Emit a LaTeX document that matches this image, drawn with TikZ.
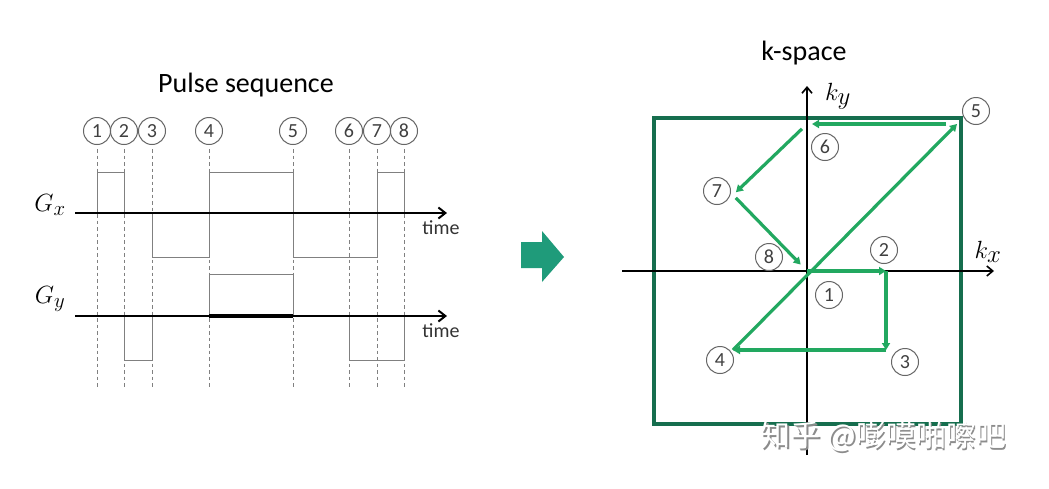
\documentclass[tikz,border=0pt]{standalone}
\usepackage{fontspec}
\setmainfont{Carlito}
\newfontfamily\cjkfont{Noto Sans CJK SC}
\usetikzlibrary{arrows.meta}
\definecolor{boxgreen}{RGB}{22,110,78}
\definecolor{pathgreen}{RGB}{34,168,96}
\definecolor{bigarrow}{RGB}{31,155,122}
\tikzset{
  numc/.style={circle,draw=black!60,text=black!75,line width=1pt,minimum size=27pt,inner sep=0pt,font=\fontsize{20}{20}\selectfont},
  wave/.style={black!50,line width=0.9pt},
  guide/.style={black!50,line width=1pt,dash pattern=on 3.5pt off 3pt},
  taxis/.style={black,line width=2.2pt,-{Straight Barb[length=7pt,width=11pt,line width=2pt]}},
  kaxis/.style={black,line width=1.6pt,-{Straight Barb[length=6pt,width=10pt,line width=1.6pt]}},
  traj/.style={pathgreen,line width=3.2pt,-{Triangle[length=7pt,width=8pt]}},
  lbl/.style={font=\fontsize{28}{30}\selectfont},
}
\begin{document}
\begin{tikzpicture}[x=1pt,y=-1pt]
\useasboundingbox[fill=white] (0,0) rectangle (1049,488);
% pulse sequence
\node[lbl] (ptitle) at (246,85) {Pulse sequence};
\foreach \x/\n in {97/1,124/2,152/3,209/4,293/5,349/6,377/7,404/8} {
  \node[numc] (t\n) at (\x,131) {\n};
  \coordinate (b\n) at (\x,388);
  \draw[guide] (t\n.south) ++(0,4) -- (b\n);
}
\coordinate (gx0) at (75,213);
\coordinate (gx1) at (447,213);
\coordinate (gy0) at (75,316);
\coordinate (gy1) at (447,316);
\draw[wave] (97,213) -- (97,172) -- (124,172) -- (124,213);
\draw[wave] (152,213) -- (152,257) -- (209,257) -- (209,172) -- (293,172) -- (293,257) -- (377,257) -- (377,172) -- (404,172) -- (404,213);
\draw[wave] (124,316) -- (124,360) -- (152,360) -- (152,316);
\draw[wave] (209,316) -- (209,274) -- (293,274) -- (293,316);
\draw[wave] (349,316) -- (349,360) -- (404,360) -- (404,316);
\draw[taxis] (gx0) -- (gx1);
\draw[taxis] (gy0) -- (gy1);
\draw[black,line width=3.5pt] (209,316) -- (293,316);
\node[font=\fontsize{32}{32}\selectfont] (gxl) at (50,205) {$G_x$};
\node[font=\fontsize{32}{32}\selectfont] (gyl) at (50,299) {$G_y$};
\node[font=\fontsize{20}{20}\selectfont,text=black!80] (tx) at (441,228) {time};
\node[font=\fontsize{20}{20}\selectfont,text=black!80] (ty) at (441,331) {time};
% arrow between
\fill[bigarrow] (521,242) -- (542,242) -- (542,231) -- (564,257) -- (542,282) -- (542,268) -- (521,268) -- cycle;
% k-space
\node[lbl] (ktitle) at (804,53) {k-space};
\draw[boxgreen,line width=3.2pt] (654,118) rectangle (961,424);
\coordinate (kx0) at (622,271);
\coordinate (kx1) at (994,271);
\coordinate (ky0) at (807,455);
\coordinate (ky1) at (807,86);
\draw[kaxis] (kx0) -- (kx1);
\draw[kaxis] (ky0) -- (ky1);
\node[font=\fontsize{36}{36}\selectfont] (kxl) at (988,252) {$k_x$};
\node[font=\fontsize{36}{36}\selectfont] (kyl) at (838,96) {$k_y$};
\coordinate (k1) at (807,271);
\coordinate (k2) at (886,271);
\coordinate (k3) at (886,350);
\coordinate (k4) at (733,350);
\coordinate (k5) at (957,124);
\coordinate (k6) at (807,124);
\coordinate (k7) at (733,195);
\coordinate (k8) at (807,271);
\draw[traj] (k1) -- (k2);
\draw[traj] (k2) -- (k3);
\draw[traj] (k3) -- (k4);
\draw[traj] (k4) -- (k5);
\draw[traj,shorten <=11pt,shorten >=5pt] (k5) -- (k6);
\draw[traj,shorten <=7pt,shorten >=4pt] (k6) -- (k7);
\draw[traj,shorten <=4pt,shorten >=9pt] (k7) -- (k8);
\node[numc] (n1) at (829,295) {1};
\node[numc] (n2) at (884,250) {2};
\node[numc] (n3) at (905,362) {3};
\node[numc] (n4) at (720,360) {4};
\node[numc] (n5) at (976,111) {5};
\node[numc] (n6) at (825,147) {6};
\node[numc] (n7) at (717,191) {7};
\node[numc] (n8) at (769,257) {8};
% watermark
\node[font=\cjkfont\fontsize{30}{30}\selectfont,text=black!45] at (885,438) {知乎 @嘭嗼啪嚓吧};
\node[font=\cjkfont\fontsize{30}{30}\selectfont,text=white] (wm) at (883.5,436.5) {知乎 @嘭嗼啪嚓吧};
\end{tikzpicture}
\end{document}
